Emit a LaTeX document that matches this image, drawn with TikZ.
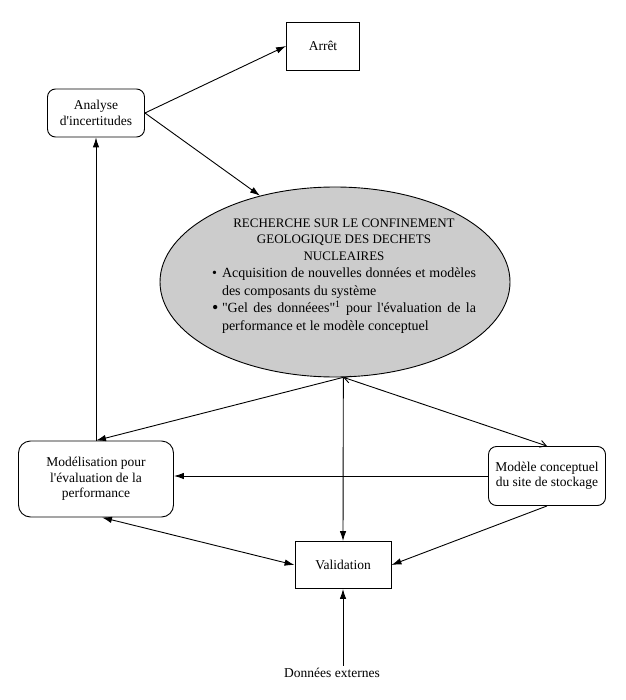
\documentclass[tikz,border=0pt]{standalone}
\usepackage{fontspec}
\setmainfont{Liberation Serif}
\usetikzlibrary{arrows.meta,shapes.geometric}

\begin{document}
\begin{tikzpicture}
	[x=1pt,y=-1pt,->,>={Latex[length=10pt,width=6.5pt]},line width=0.9pt,
		box node/.style={draw,rectangle,inner sep=0pt,align=center,font=\fontsize{13.5}{15.5}\selectfont},
		round node/.style={box node,rounded corners=8pt},
		barb tip/.style={<->,>={Straight Barb[length=6pt,width=7pt]}}]

	\useasboundingbox (0,0) rectangle (625,700);

	\node[box node, minimum width=73pt, minimum height=48pt]  (Arret) at (323,46) {Arrêt};
	\node[round node, minimum width=97pt, minimum height=48pt]  (Analyse) at (96,113) {Analyse\\d\textquotesingle incertitudes};
	\node[draw, ellipse, fill=gray!40, minimum width=350pt, minimum height=190pt]  (Rech) at (335,282) {};
	\node[text width=264pt, align=justify, font=\fontsize{14}{17.5}\selectfont]  (RechT) at (344,276)
		{{\centering\fontsize{13}{16.5}\selectfont RECHERCHE SUR LE CONFINEMENT\\ GEOLOGIQUE DES DECHETS\\ NUCLEAIRES\par}
		\hangindent=10pt\noindent\makebox[10pt][l]{\textbullet}Acquisition de nouvelles données et modèles\linebreak des composants du système\par
		\hangindent=10pt\noindent\makebox[10pt][l]{\raisebox{-1pt}{\fontsize{18}{18}\selectfont\textbullet}}\textquotedbl Gel des donnéees\textquotedbl\textsuperscript{1} pour l\textquotesingle évaluation de la\linebreak performance et le modèle conceptuel\par};
	\node[round node, rounded corners=12pt, minimum width=155pt, minimum height=76pt]  (Mod) at (96,479) {Modélisation pour\\l\textquotesingle évaluation de la\\performance};
	\node[round node, minimum width=117pt, minimum height=59pt]  (Conc) at (547,476) {Modèle conceptuel\\du site de stockage};
	\node[box node, minimum width=96pt, minimum height=47pt]  (Val) at (343,565) {Validation};
	\node[inner sep=2pt, font=\fontsize{13.5}{15.5}\selectfont]  (Ext) at (332,673) {Données externes};

	\path[]
	(Analyse.east) edge   (Arret.west)
	(Analyse.east) edge   (Rech.131)
	(Mod.north) edge   (Analyse.south)
	(Rech.-85) edge   (Mod.north)
	(Rech.-85) edge   (Val.north)
	(Rech.-85) edge [barb tip]   (Conc.north)
	(Conc.west) edge   (Conc.west -| Mod.east)
	(Conc.south) edge   (Val.east)
	([xshift=6pt]Mod.south) edge [<->]   (Val.west)
	(Ext.north -| Val.south) edge   (Val.south)
	;

\end{tikzpicture}
\end{document}
